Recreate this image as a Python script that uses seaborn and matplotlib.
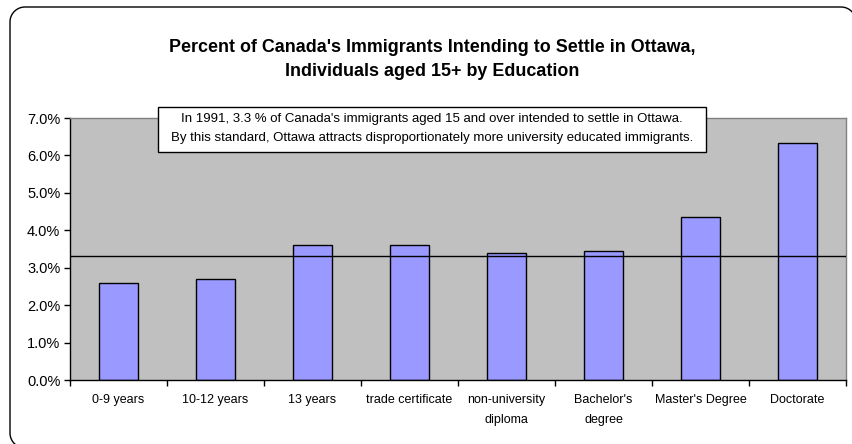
import matplotlib
matplotlib.use("Agg")
import matplotlib.pyplot as plt
import seaborn as sns
import pandas as pd
import numpy as np
from matplotlib.patches import Rectangle
from matplotlib.lines import Line2D
from matplotlib.ticker import FixedLocator, PercentFormatter

categories = ["0-9 years", "10-12 years", "13 years", "trade certificate",
              "non-university\ndiploma", "Bachelor's\ndegree", "Master's Degree", "Doctorate"]
values = [2.60, 2.69, 3.60, 3.62, 3.38, 3.45, 4.36, 6.32]
reference_value = 3.3
y_ticks = [0, 1, 2, 3, 4, 5, 6, 7]

title = "Percent of Canada's Immigrants Intending to Settle in Ottawa,\nIndividuals aged 15+ by Education"
note = ("In 1991, 3.3 % of Canada's immigrants aged 15 and over intended to settle in Ottawa.\n"
        "By this standard, Ottawa attracts disproportionately more university educated immigrants.")

sns.set_style("white")
plt.rcParams['font.family'] = ['Liberation Sans', 'DejaVu Sans']
plt.rcParams['text.color'] = 'black'
plt.rcParams['xtick.color'] = 'black'
plt.rcParams['ytick.color'] = 'black'
plt.rcParams['axes.labelcolor'] = 'black'

W, H = 852, 444
fig = plt.figure(figsize=(W / 100, H / 100), dpi=100)
fig.patch.set_facecolor("white")

# outer rounded frame (right and bottom sides fall outside the image, as in the original)
fx0, fy0, fx1, fy1, r = 10, 7, 856, 448, 15


def arc(cx, cy, a0, a1, n=20):
    t = np.radians(np.linspace(a0, a1, n))
    return cx + r * np.cos(t), cy - r * np.sin(t)


xs, ys = [], []
for seg in [arc(fx0 + r, fy1 - r, 270, 180),          # bottom-left corner
            arc(fx0 + r, fy0 + r, 180, 90),           # top-left corner
            arc(fx1 - r, fy0 + r, 90, 0)]:            # top-right corner
    xs.extend(seg[0]); ys.extend(seg[1])
xs.append(fx1); ys.append(fy1 + 5)
fig.add_artist(Line2D(np.array(xs) / W, 1 - np.array(ys) / H, transform=fig.transFigure,
                      color="black", linewidth=1.0, clip_on=False,
                      solid_joinstyle="round"))

left, right, top, bottom = 70, 846, 118, 380
ax = fig.add_axes([left / W, 1 - bottom / H, (right - left) / W, (bottom - top) / H])
ax.set_facecolor("#C0C0C0")

df = pd.DataFrame({"category": categories, "value": values})
sns.barplot(data=df, x="category", y="value", ax=ax, color="#9999FF",
            saturation=1, width=0.41, edgecolor="black", linewidth=1.0)

ax.axhline(reference_value, color="black", linewidth=1.0, zorder=5)

ax.set_ylim(0, 7)
ax.set_xlim(-0.5, len(categories) - 0.5)
ax.yaxis.set_major_locator(FixedLocator(y_ticks))
ax.yaxis.set_major_formatter(PercentFormatter(decimals=1))
ax.tick_params(axis="y", direction="out", length=4, width=1, color="black",
               labelsize=10.5, pad=3, left=True, labelcolor="black")

# x: tick marks between categories, labels centered
ax.xaxis.set_major_locator(FixedLocator(np.arange(-0.5, len(categories), 1.0)))
ax.set_xticklabels([""] * (len(categories) + 1))
ax.xaxis.set_minor_locator(FixedLocator(np.arange(len(categories))))
ax.set_xticklabels(categories, minor=True, fontsize=9, linespacing=1.9, va="top",
                   color="black")
ax.tick_params(axis="x", which="major", direction="out", length=4, width=1,
               color="black", bottom=True)
ax.tick_params(axis="x", which="minor", length=0, pad=10)
ax.set_xlabel("")
ax.set_ylabel("")

for s in ["left", "bottom"]:
    ax.spines[s].set_color("black")
    ax.spines[s].set_linewidth(1.0)
for s in ["top", "right"]:
    ax.spines[s].set_color("#808080")
    ax.spines[s].set_linewidth(1.0)

fig.text(432 / W, 1 - 59.5 / H, title, ha="center", va="center", fontsize=12.9,
         fontweight="bold", linespacing=1.6, color="black")

# annotation box
box = Rectangle((158 / W, 1 - 152 / H), (706 - 158) / W, (152 - 107) / H,
                transform=fig.transFigure, facecolor="white", edgecolor="black",
                linewidth=1.0, zorder=10)
fig.patches.append(box)
fig.text(432 / W, 1 - 128.5 / H, note, ha="center", va="center", fontsize=9.5,
         linespacing=1.7, color="black", zorder=11)

fig.savefig("out.png", dpi=100)
